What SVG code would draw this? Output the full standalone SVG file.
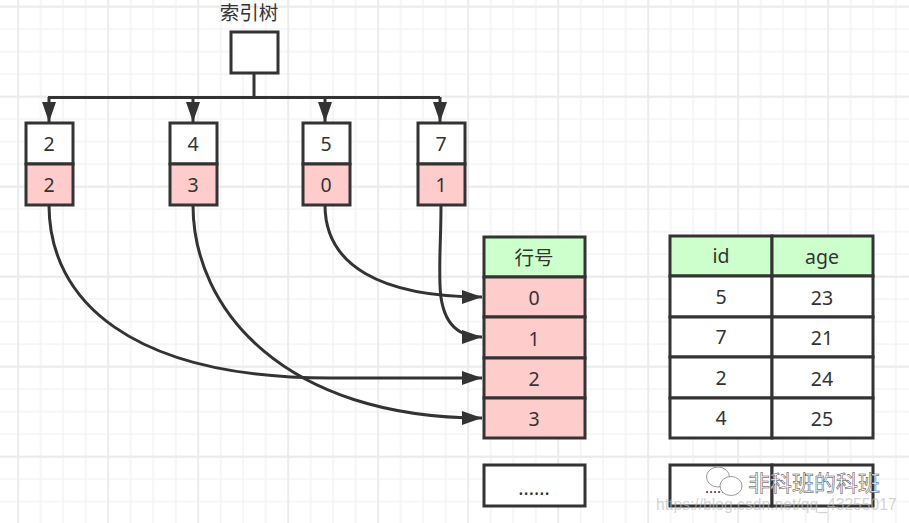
<svg xmlns="http://www.w3.org/2000/svg" width="909" height="523" viewBox="0 0 909 523">
<defs>
<pattern id="g" x="17.200" y="5.700" width="22.500" height="22.500" patternUnits="userSpaceOnUse"><path d="M1 0V22.500M0 1H22.500" fill="none" stroke="#f3f3f3" stroke-width="1.500"/></pattern>
<pattern id="G" x="17.200" y="5.700" width="90" height="90" patternUnits="userSpaceOnUse"><path d="M1 0V90M0 1H90" fill="none" stroke="#ebebeb" stroke-width="1.800"/></pattern>
<marker id="a" markerUnits="userSpaceOnUse" markerWidth="20" markerHeight="15" refX="20" refY="7.500" orient="auto"><path d="M0 0.500L20 7.500L0 14.500Z" fill="#333"/></marker>
</defs>
<style>
.c{fill:none;stroke:#333;stroke-width:3}
.w,.p,.h{stroke:#333;stroke-width:3}
.w{fill:#fff}.p{fill:#ffcccc}.h{fill:#ccffcc}
text{font-family:"Noto Sans","Noto Sans CJK SC",sans-serif;font-size:19.500px;fill:#333;text-anchor:middle}
.m{fill:#fff;stroke:#444;stroke-width:.5;font-size:22px;font-family:"Noto Sans CJK SC",sans-serif;text-anchor:start}
.u{fill:#bbb;fill-opacity:.65;font-size:15.700px;font-family:"Liberation Sans",sans-serif;text-anchor:start}
.d{font-size:15px}
</style>
<rect width="909" height="523" fill="#fff"/>
<rect width="909" height="523" fill="url(#g)"/>
<rect width="909" height="523" fill="url(#G)"/>
<g id="connectors">
<path class="c" d="M254 73V97"/>
<path class="c" d="M48 97.500H440"/>
<path class="c" marker-end="url(#a)" d="M49 97V122"/>
<path class="c" marker-end="url(#a)" d="M193 97V122"/>
<path class="c" marker-end="url(#a)" d="M325 97V122"/>
<path class="c" marker-end="url(#a)" d="M440 97V122"/>
<path class="c" marker-end="url(#a)" d="M49 205C49 300 130 378 330 378H482"/>
<path class="c" marker-end="url(#a)" d="M193 205C193 310 285 418 482 418"/>
<path class="c" marker-end="url(#a)" d="M325 205C325 265 380 297 482 297"/>
<path class="c" marker-end="url(#a)" d="M441 205C441 240 439 255 440 285C441 320 455 337 482 337"/>
</g>
<g id="title"><text x="249" y="20">索引树</text></g>
<g id="root"><rect class="w" x="231" y="32" width="47" height="41"/></g>
<g id="node-2"><rect class="w" x="26" y="123" width="47" height="41"/><rect class="p" x="26" y="164" width="47" height="41"/><text x="49" y="151">2</text><text x="49" y="192">2</text></g>
<g id="node-4"><rect class="w" x="170" y="123" width="47" height="41"/><rect class="p" x="170" y="164" width="47" height="41"/><text x="193" y="151">4</text><text x="193" y="192">3</text></g>
<g id="node-5"><rect class="w" x="303" y="123" width="47" height="41"/><rect class="p" x="303" y="164" width="47" height="41"/><text x="326" y="151">5</text><text x="326" y="192">0</text></g>
<g id="node-7"><rect class="w" x="418" y="123" width="47" height="41"/><rect class="p" x="418" y="164" width="47" height="41"/><text x="441" y="151">7</text><text x="441" y="192">1</text></g>
<g id="rownum">
<rect class="h" x="484" y="237" width="101" height="40"/><text x="534" y="265">行号</text>
<rect class="p" x="484" y="277" width="101" height="40"/><text x="534" y="305">0</text>
<rect class="p" x="484" y="317" width="101" height="41"/><text x="534" y="346">1</text>
<rect class="p" x="484" y="358" width="101" height="40"/><text x="534" y="386">2</text>
<rect class="p" x="484" y="398" width="101" height="40"/><text x="534" y="426">3</text>
</g>
<g id="rownum-more"><rect class="w" x="484" y="465" width="101" height="41"/><text x="534" y="495">......</text></g>
<g id="table">
<rect class="h" x="670" y="236" width="102" height="40"/><text x="721" y="263">id</text>
<rect class="h" x="772" y="236" width="101" height="40"/><text x="822" y="264">age</text>
<rect class="w" x="670" y="276" width="102" height="41"/><text x="721" y="304">5</text>
<rect class="w" x="772" y="276" width="101" height="41"/><text x="822" y="305">23</text>
<rect class="w" x="670" y="317" width="102" height="40"/><text x="721" y="344">7</text>
<rect class="w" x="772" y="317" width="101" height="40"/><text x="822" y="345">21</text>
<rect class="w" x="670" y="357" width="102" height="41"/><text x="721" y="385">2</text>
<rect class="w" x="772" y="357" width="101" height="41"/><text x="822" y="386">24</text>
<rect class="w" x="670" y="398" width="102" height="40"/><text x="721" y="425">4</text>
<rect class="w" x="772" y="398" width="101" height="40"/><text x="822" y="426">25</text>
</g>
<g id="table-more">
<rect class="w" x="670" y="465" width="102" height="41"/>
<rect class="w" x="772" y="465" width="101" height="41"/>
<text class="d" x="717" y="493">......</text>
</g>
<g id="watermark">
<ellipse cx="718" cy="477" rx="11.500" ry="10" fill="#fff" stroke="#999"/>
<ellipse cx="731" cy="486" rx="11" ry="9.500" fill="#fff" stroke="#999"/>
<text class="m" x="748" y="491">非科班的科班</text>
<text class="u" x="656" y="510">https://blog.csdn.net/qq_43255017</text>
</g>
</svg>
